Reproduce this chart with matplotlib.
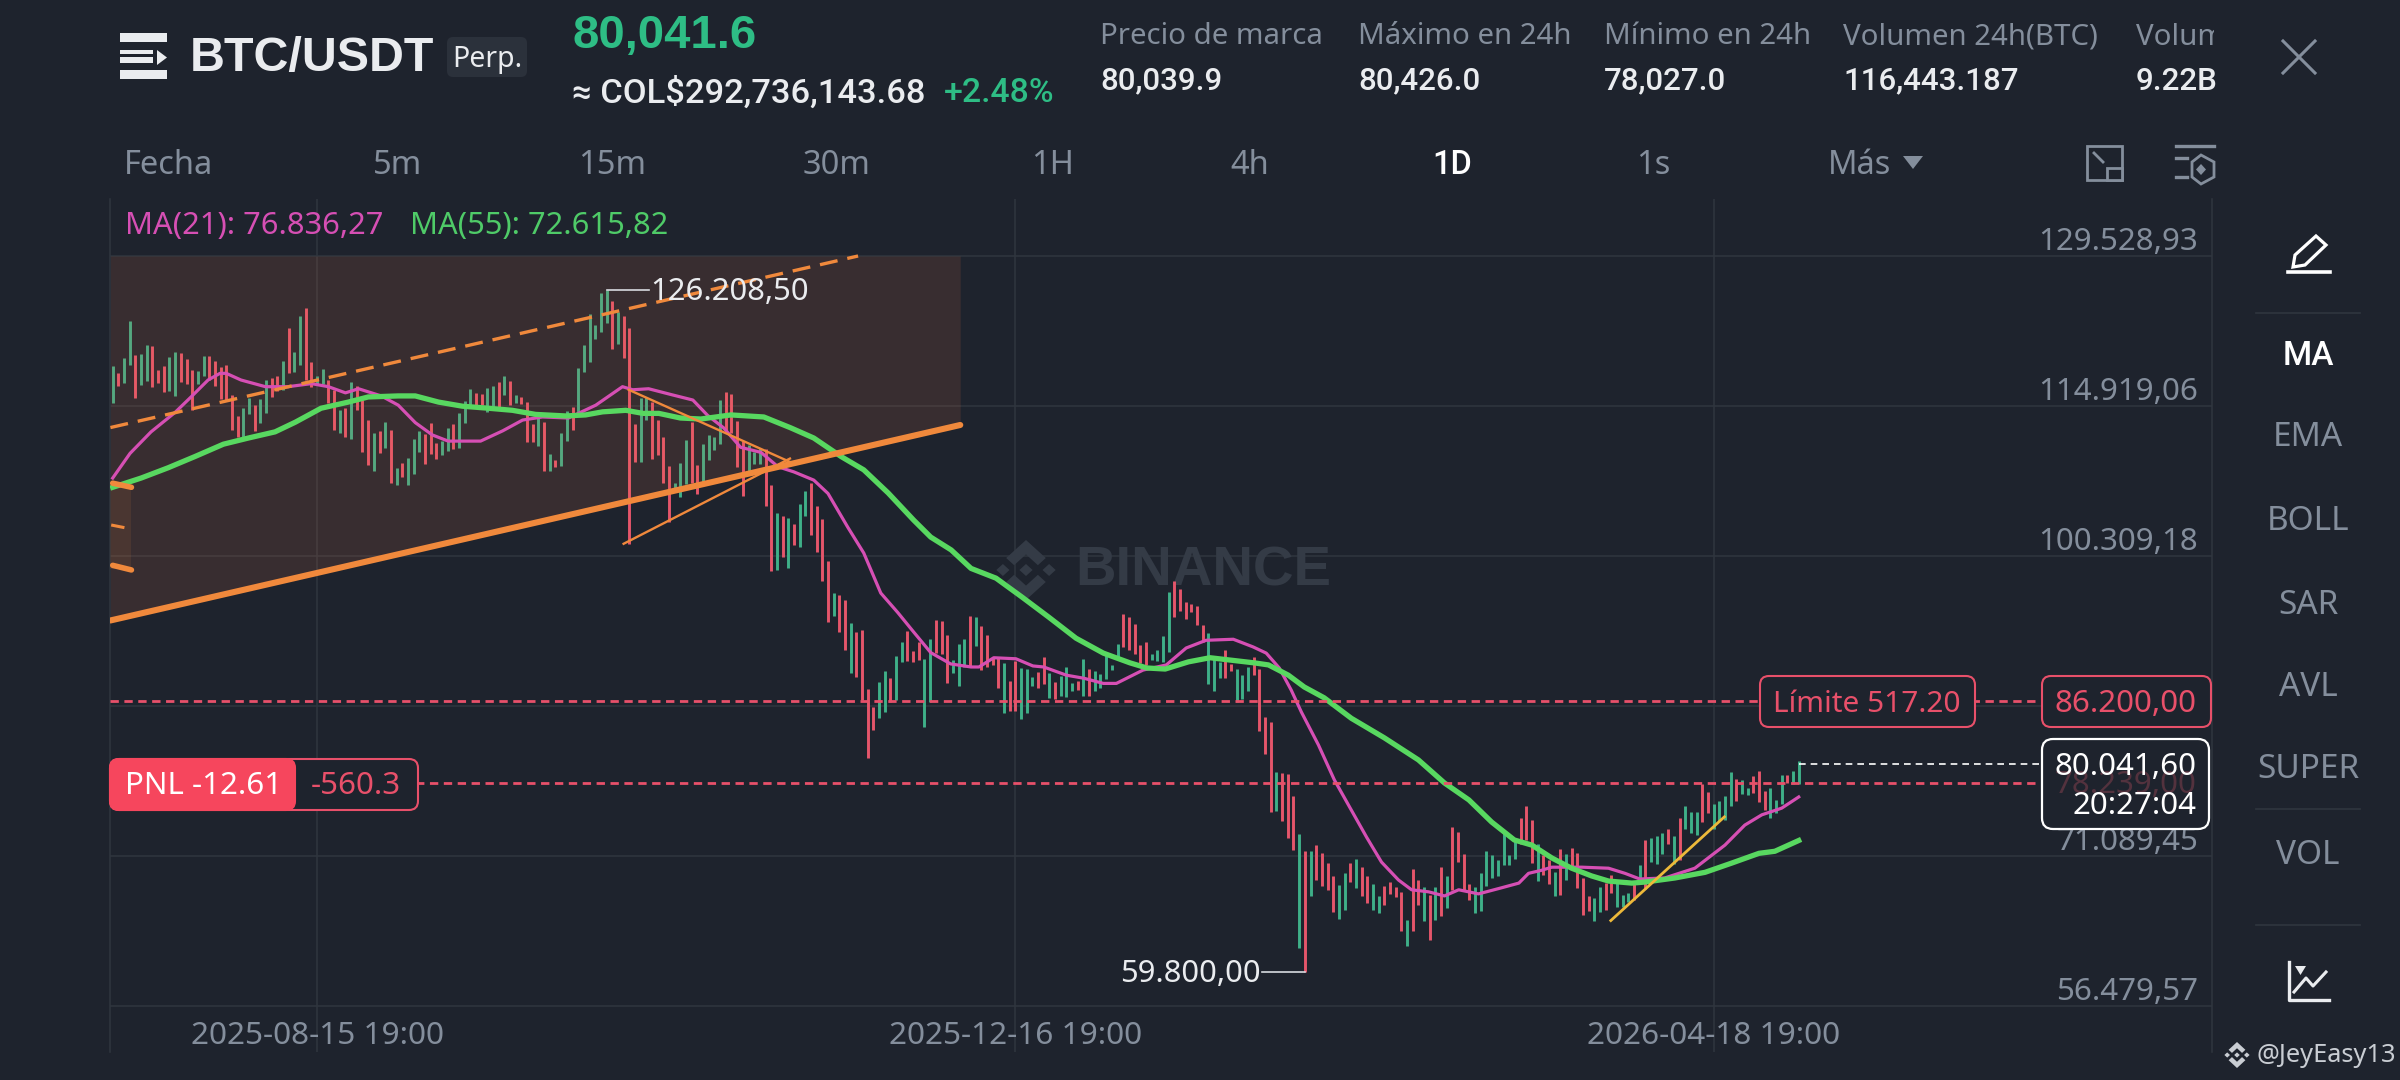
import numpy as np
import pandas as pd
import matplotlib
matplotlib.use("Agg")
import matplotlib.pyplot as plt
from matplotlib.patches import FancyBboxPatch, Polygon, Rectangle

plt.rcParams['font.family'] = ['Noto Sans', 'DejaVu Sans']
HEAVY = ['Liberation Sans', 'DejaVu Sans']
MEDIUM = ['Roboto', 'DejaVu Sans']

# daily bars, high and low in thousands
highs = [118.8,118.1,119.6,123.2,119.9,120.0,120.9,120.8,118.4,118.8,119.7,120.2,120.1,119.5,118.4,118.3,119.8,119.8,119.3,118.7,118.9,
         116.0,113.9,114.7,115.7,115.0,115.6,117.5,117.6,117.8,119.3,122.5,120.2,123.7,124.5,119.2,117.8,118.5,117.5,116.5,114.5,114.7,
         117.3,116.9,115.5,113.6,112.3,112.5,113.4,112.6,108.9,
         109.4,109.9,111.7,112.5,112.2,113.3,111.3,111.5,112.8,113.2,114.2,115.4,116.6,116.2,116.1,116.7,116.9,117.3,117.8,117.4,
         116.0,115.8,115.3,113.2,113.75,113.4,110.2,109.7,112.3,114.4,114.8,118.6,120.9,123.9,122.8,125.9,126.2085,125.1,124.1,123.7,
         122.5,113.2,115.7,115.8,115.3,113.6,111.9,109.1,107.4,109.4,
         111.6,113.4,109.2,111.2,112.1,111.9,115.5,116.3,116.1,113.5,111.5,111.15,110.4,110.8,110.7,107.2,104.5,104.2,104.0,103.4,
         105.4,106.6,107.45,105.2,103.9,99.8,96.7,96.5,96.0,93.75,92.9,93.1,87.4,85.6,88.0,89.1,88.4,90.6,91.9,93.0,
         91.1,91.9,90.3,92.2,94.1,94.0,92.6,90.2,91.7,92.2,94.5,
         94.4,93.5,92.65,90.5,90.4,89.9,88.1,90.05,89.4,89.3,88.5,89.0,90.5,88.9,88.0,88.6,89.5,87.9,88.1,90.3,
         89.3,89.1,88.8,90.8,89.7,91.7,94.7,94.4,93.7,91.6,91.9,90.8,91.2,92.5,96.8,97.85,97.1,95.8,95.6,95.4,
         93.6,92.8,90.45,90.0,91.2,89.8,89.3,88.75,89.5,90.5,
         89.3,84.6,84.1,79.3,79.2,79.1,76.9,73.2,71.6,71.6,72.2,71.35,70.4,69.15,68.3,69.4,70.4,70.8,70.0,69.15,
         68.4,67.2,68.2,68.6,68.1,67.6,64.85,69.85,68.75,68.1,67.3,68.1,70.0,69.15,73.95,73.4,71.3,68.4,68.1,69.4,
         71.6,71.15,70.7,73.4,71.15,72.65,74.8,75.95,74.6,72.3,
         71.15,70.7,69.5,71.75,71.3,71.9,71.35,68.95,67.2,67.0,68.05,68.45,69.2,68.45,67.25,67.45,68.55,70.25,72.65,72.8,
         73.05,73.35,73.7,73.05,74.8,75.95,75.35,75.4,78.15,77.3,76.15,76.4,76.95,79.3,78.55,78.5,77.75,78.9,79.4,77.4,
         77.75,76.55,78.95,78.95,79.4,80.35]
lows = [115.2,116.9,117.2,118.9,115.7,117.0,117.4,116.8,117.2,116.3,116.4,115.9,117.3,117.1,114.5,117.1,117.8,117.5,116.9,115.6,115.5,
        112.6,111.9,111.8,114.1,112.5,113.3,114.2,115.8,116.4,116.5,118.1,118.2,118.9,117.5,116.8,117.1,117.1,115.2,112.6,112.3,111.9,
        111.7,114.5,110.4,109.2,108.6,110.3,110.8,107.4,107.2,
        108.0,107.2,108.3,110.4,109.3,110.2,109.8,110.1,110.5,110.7,110.8,113.3,114.8,115.0,115.0,114.3,114.7,114.8,116.0,115.0,
        115.2,115.1,111.4,111.4,111.0,108.6,108.6,109.0,109.1,111.5,112.6,114.3,118.2,119.2,121.4,122.1,123.0,120.5,121.0,119.6,
        101.5,109.5,109.5,113.6,109.8,110.1,107.4,103.6,106.7,106.1,
        107.3,107.4,106.3,107.5,109.7,110.6,111.2,112.6,112.3,109.0,106.2,108.55,109.3,109.3,105.2,98.8,98.9,100.2,99.1,101.35,
        101.2,104.2,102.4,100.7,97.9,93.9,94.5,92.9,91.2,88.9,88.5,86.3,80.6,83.4,84.5,85.1,86.1,86.3,90.0,90.1,
        90.0,90.2,83.7,86.1,90.9,90.8,87.9,88.9,87.6,89.5,89.5,
        91.5,89.2,89.5,89.7,87.5,85.0,85.2,85.25,84.4,85.0,87.6,87.5,87.8,86.5,86.35,86.7,86.6,87.2,87.3,86.7,
        86.7,87.2,87.5,88.3,89.2,90.5,91.4,91.2,90.8,89.9,89.7,90.2,90.1,90.0,91.0,94.4,95.0,94.2,94.9,93.6,
        91.9,87.8,87.2,88.4,88.4,89.1,86.1,86.4,87.2,88.75,
        83.3,81.0,75.4,75.5,74.5,72.8,71.7,62.1,59.8,67.2,68.75,68.2,67.8,65.6,65.0,65.8,68.6,68.0,67.2,66.5,
        65.8,65.5,66.35,67.4,67.05,63.75,62.3,63.8,66.35,64.8,62.9,64.9,65.2,66.0,67.8,70.5,67.8,66.8,65.5,65.7,
        68.2,68.9,69.1,70.25,70.25,70.8,72.3,72.6,70.4,68.7,
        69.25,68.4,67.2,67.25,68.8,69.85,67.95,65.35,65.7,64.8,65.6,65.8,67.45,66.1,66.15,66.6,66.8,68.6,67.85,70.55,
        70.35,71.3,72.3,70.35,70.7,73.7,73.35,73.15,74.4,75.3,73.7,74.45,74.6,76.0,76.4,77.1,77.0,77.2,76.35,75.55,
        74.8,75.25,76.2,78.2,78.15,78.15]
# G up, R down, same order as highs and lows
bar_dirs = ("GRGGRGGRRRGGRRRGGRRRRRRGGRGGRRGRGGRRGGRRGRGRRRGRGRG"
            "RGGGRRRGGRGGGRRGGRGRGRRRGRGRGGRGGGGGGRGRRRGGRRRRGG"
            "GRRGGGGRRRRGGGRRGRGRGGRRRRGRRGRRRRGGRGGRRRGGRRRGGG"
            "RGRRRRGRRGGGRRGRGGGRGRGGGGGRRRRRGGGGRRRRRRGGGRRGGG"
            "RRRRGRRRGRGRRRRGGRGRRGGRRRRGRRGRGRGRRRRGGGGGGGGRRR"
            "GRRGRGRRRRGGRRGGGRGRGGGRGRGGGRRGGGGRGGRRRGGGRG")

# moving averages, day index and price in thousands
ma21_days = [0,3.05,6.75,11,13.8,16.8,18.9,20,22.6,26.9,30.9,35,38,41,43.3,47.3,50.3,53.3,56.3,59.1,64.8,68.7,72.2,75.7,80.3,85.1,89.8,91.6,94.4,98.6,
             102.2,104.8,107.6,110.6,114.2,117.2,120,123.5,126,129.5,132.3,135.3,138.3,141.1,144.1,147.6,151.2,152.6,155.2,159.1,162.1,164,168,171.1,174.5,176.8,181.5,185.6,189.1,192.6,
             197.4,200.9,203.2,205.5,207.6,209.4,212.4,215.2,218.2,220.9,223.5,226.5,228.8,231.8,234.6,237.1,240.6,244.7,247.7,249.4,251.7,253.5,258.8,263.5,266.4,269,273.4,278.7,284,287.5,
             290.5,294,297]
ma21_vals = [107.9,110.3,112.4,114.3,115.8,117.45,118.1,118.1,117.45,116.8,116.8,117.1,116.8,116.2,116.6,115.9,115.0,113.3,112.1,111.5,111.5,112.5,113.55,113.85,113.75,115.0,116.8,116.5,116.6,116.0,
             115.5,114.0,112.8,110.9,110.4,109.0,108.5,107.7,106.4,103.1,100.6,96.7,94.8,92.9,90.9,89.8,89.5,89.5,90.4,90.3,89.6,89.5,88.7,88.4,87.9,87.9,89.2,89.7,91.35,92.1,
             92.2,91.45,90.85,89.4,87.25,85.1,81.9,78.5,75.55,72.9,70.5,68.75,67.8,67.6,67.2,67.8,67.4,68.0,68.45,69.4,69.7,70.0,70.0,69.9,69.4,68.85,68.95,69.9,72.15,74.1,
             75.1,75.75,76.84]
ma55_days = [0,5,9.75,14.5,19.5,23.9,28.6,32.2,36.7,41.5,45,50.3,53.3,57.4,61.6,66.2,70.4,74.5,79.8,83.3,86.3,90.4,93.4,96.2,100,103.6,108.9,114.7,119.4,123.5,
             128.3,132.3,136.6,141.1,144.1,147.7,151.2,155.6,160.2,164.9,169.7,174.5,179.2,182.2,185.4,189.5,193.3,201.1,203.6,207.1,209.9,213.4,218.2,224,230,234.6,238.9,242.9,246.9,250,
             253.5,257,260.5,263.5,267.6,269.9,275.2,280.5,285.2,290,292.8,297]
ma55_vals = [107.0,107.9,108.9,110.0,111.2,111.8,112.4,113.35,114.7,115.3,115.8,115.9,115.9,115.3,114.9,114.7,114.5,114.1,113.95,114.05,114.35,114.5,114.2,114.2,113.75,113.65,114.05,113.85,112.8,111.8,
             110.0,108.7,106.45,103.8,102.15,100.9,99.1,98.15,96.3,94.35,92.3,90.85,89.9,89.4,89.3,90.0,90.4,89.9,89.7,88.7,87.55,86.5,84.5,82.6,80.45,78.2,76.55,74.4,72.65,72.15,
             70.9,69.9,69.15,68.65,68.45,68.55,68.95,69.5,70.4,71.35,71.55,72.6]

# drawn trend lines, day index and price in thousands
support_days = [-0.4, 149.3]
support_vals = [94.03, 113.07]
resist_days = [-0.4, 131.3]
resist_vals = [112.82, 129.53]
thin_up_days = [90, 119.3]
thin_up_vals = [101.5, 109.8]
thin_down_days = [90.9, 120]
thin_down_vals = [116.5, 109.3]
yellow_days = [263.9, 283.9]
yellow_vals = [64.8, 74.9]

first_day = pd.Timestamp("2025-07-10")
date_ticks = ["2025-08-15", "2025-12-16", "2026-04-18"]
date_labels = ["2025-08-15 19:00", "2025-12-16 19:00", "2026-04-18 19:00"]
price_ticks = [129528.93, 114919.06, 100309.18, 85699.31, 71089.45, 56479.57]
price_labels = ["129.528,93", "114.919,06", "100.309,18", "", "71.089,45", "56.479,57"]
last_price = 80041.60
limit_price = 86200.00
entry_price = 78239.00
peak_price = 126208.50
bottom_price = 59800.00

timeframes = ["5m", "15m", "30m", "1H", "4h", "1D", "1s", "Más"]
side_items = ["MA", "EMA", "BOLL", "SAR", "AVL", "SUPER", "VOL"]
stat_names = ["Precio de marca", "Máximo en 24h", "Mínimo en 24h", "Volumen 24h(BTC)", "Volumen 24h(USDT)"]
stat_values = ["80,039.9", "80,426.0", "78,027.0", "116,443.187", "9.22B"]

BG = "#1E232D"
GRID = "#30363F"
GREY = "#848E9C"
WHITE = "#EAECEF"
UP = "#3FB088"
DOWN = "#E5566B"
RED = "#E8506A"
ORANGE = "#F0893C"
MAGENTA = "#D64FB4"
LIME = "#58D860"

fig = plt.figure(figsize=(24, 10.8), dpi=100, facecolor=BG)
W, H = 2400.0, 1080.0

# chart panel, 5.677 px per day and 97.399 of price per px
ax_left, ax_right, ax_top, ax_bot = 110, 2212, 199, 1052
ax = fig.add_axes([ax_left/W, 1-ax_bot/H, (ax_right-ax_left)/W, (ax_bot-ax_top)/H], facecolor=BG)
ui = fig.add_axes([0, 0, 1, 1], facecolor="none", zorder=5)
ui.set_xlim(0, W)
ui.set_ylim(H, 0)
ui.axis("off")

ax.set_xlim(-0.476, 369.8)
ax.set_ylim(price_ticks[0]-(ax_bot-256)*97.399, price_ticks[0]+(256-ax_top)*97.399)
tick_days = [(pd.Timestamp(d)-first_day).days for d in date_ticks]
ax.set_xticks(tick_days)
ax.set_yticks(price_ticks)
ax.set_xticklabels([])
ax.set_yticklabels([])
ax.tick_params(length=0)
ax.grid(True, color=GRID, lw=1.1, zorder=0)
ax.set_axisbelow(True)
for side in ["top", "bottom"]:
    ax.spines[side].set_visible(False)
for side in ["left", "right"]:
    ax.spines[side].set_color(GRID)
    ax.spines[side].set_linewidth(1.1)


def binance_mark(axis, cx, cy, rx, ry, color, **kw):
    pieces = [[(0, -.2), (.2, 0), (0, .2), (-.2, 0)],
              [(-.7, -.2), (-.5, 0), (-.7, .2), (-.9, 0)],
              [(.7, -.2), (.9, 0), (.7, .2), (.5, 0)],
              [(0, -1), (.6, -.4), (.36, -.16), (0, -.52), (-.36, -.16), (-.6, -.4)],
              [(0, 1), (.6, .4), (.36, .16), (0, .52), (-.36, .16), (-.6, .4)]]
    for p in pieces:
        pts = [(cx+a*rx, cy+b*ry) for a, b in p]
        axis.add_patch(Polygon(pts, closed=True, fc=color, ec="none", transform=ui.transData, **kw))


# watermark sits under the candles
ax.text(1075, 572, "BINANCE", transform=ui.transData, color="#343B46", fontsize=40.5, family=HEAVY,
        fontweight="bold", va="center", ha="left", zorder=1)
binance_mark(ax, 1026, 570, 33, 30, "#343B46", zorder=1)

# candles
highs_arr = np.array(highs)*1000
lows_arr = np.array(lows)*1000
days = np.arange(len(highs_arr))
bar_cols = [UP if c == "G" else DOWN for c in bar_dirs]
ax.vlines(days, lows_arr, highs_arr, colors=bar_cols, lw=2.1, zorder=3, capstyle="butt")

# shaded channel
sup_v = np.array(support_vals)*1000
ax.fill_between(support_days, sup_v, price_ticks[0], color="#F07848", alpha=0.125, lw=0, zorder=4)
ax.fill_between([-0.4, 3.3], 99000, 107400, color=ORANGE, alpha=0.10, lw=0, zorder=4)

# moving averages
ax.plot(ma21_days, np.array(ma21_vals)*1000, color=MAGENTA, lw=2.3, zorder=5)
ax.plot(ma55_days, np.array(ma55_vals)*1000, color=LIME, lw=3.8, zorder=5)

# trend lines
ax.plot(support_days, sup_v, color=ORANGE, lw=4.4, solid_capstyle="round", zorder=6)
ax.plot(resist_days, np.array(resist_vals)*1000, color=ORANGE, lw=2.4, dashes=(5.4, 3), zorder=6)
ax.plot(thin_up_days, np.array(thin_up_vals)*1000, color=ORANGE, lw=1.7, zorder=6)
ax.plot(thin_down_days, np.array(thin_down_vals)*1000, color=ORANGE, lw=1.7, zorder=6)
ax.plot(yellow_days, np.array(yellow_vals)*1000, color="#EDB93A", lw=2.0, zorder=6)
ax.plot([0, 3.3], [107400, 107000], color=ORANGE, lw=4, solid_capstyle="round", zorder=6)
ax.plot([0, 3.3], [99400, 98950], color=ORANGE, lw=4, solid_capstyle="round", zorder=6)
ax.plot([0, 1.8], [103300, 103100], color=ORANGE, lw=2.2, zorder=6)

# order lines and last price
ax.plot([-0.4, 340], [limit_price, limit_price], color=RED, lw=2.0, dashes=(3, 2), zorder=7)
ax.plot([-0.4, 340], [entry_price, entry_price], color=RED, lw=2.0, dashes=(3, 2), zorder=7)
ax.plot([297, 340], [last_price, last_price], color="white", lw=1.2, dashes=(4, 3), zorder=7)

# peak and bottom leaders
peak_day = int(np.argmax(highs_arr))
low_day = int(np.argmin(lows_arr))
ax.plot([peak_day, peak_day+7.5], [peak_price, peak_price], color="#D8DBE0", lw=1.2, zorder=7)
ax.text(peak_day+7.7, peak_price-200, "126.208,50", color=WHITE, fontsize=22.3, va="center", ha="left", zorder=8)
ax.plot([low_day-7.5, low_day], [bottom_price, bottom_price], color="#D8DBE0", lw=1.2, zorder=7)
ax.text(low_day-7.7, bottom_price-200, "59.800,00", color=WHITE, fontsize=22.3, va="center", ha="right", zorder=8)

# price and date labels
for val, lab in zip(price_ticks, price_labels):
    ax.annotate(lab, xy=(1, val), xycoords=ax.get_yaxis_transform(), xytext=(-9.8, 10),
                textcoords="offset points", color=GREY, fontsize=22.5, ha="right", va="center")
for d, lab in zip(tick_days, date_labels):
    ax.annotate(lab, xy=(d, 0), xycoords=ax.get_xaxis_transform(), xytext=(0, 11.4),
                textcoords="offset points", color=GREY, fontsize=22.7, ha="center", va="center")

ui.text(125, 226, "MA(21): 76.836,27", color=MAGENTA, fontsize=22.2, va="center")
ui.text(410, 226, "MA(55): 72.615,82", color="#4FCB68", fontsize=22.2, va="center")


def box(x0, y0, x1, y1, ec, fc=BG, lw=1.5, r=9, z=6, **kw):
    ui.add_patch(FancyBboxPatch((x0, y0), x1-x0, y1-y0, boxstyle="round,pad=0,rounding_size=%d" % r,
                                fc=fc, ec=ec, lw=lw, zorder=z, **kw))


# order labels
box(1760, 676, 1975, 727, RED)
ui.text(1867, 704, "Límite 517.20", color=RED, fontsize=21.5, ha="center", va="center", zorder=7)
box(2042, 676, 2211, 727, RED)
ui.text(2196, 704, "86.200,00", color=RED, fontsize=22.5, ha="right", va="center", zorder=7)

box(110, 759, 418, 810, RED)
box(110, 759, 295, 810, "#F6465D", fc="#F6465D", z=6.2)
ui.text(125, 786, "PNL -12.61", color="white", fontsize=22.5, va="center", zorder=7)
ui.text(311, 786, "-560.3", color=RED, fontsize=22.5, va="center", zorder=7)

box(2042, 739, 2209, 829, "white", lw=1.6, r=11)
ui.text(2196, 785, "78.239,00", color="#53323E", fontsize=22.5, ha="right", va="center", zorder=6.5)
ui.text(2196, 767, "80.041,60", color="white", fontsize=22.5, ha="right", va="center", zorder=7)
ui.text(2196, 806, "20:27:04", color="white", fontsize=22.5, ha="right", va="center", zorder=7)

# header, logo first
for y0, y1, x1 in [(33, 42, 167), (50, 54, 153), (57, 63, 153), (70, 79, 167)]:
    ui.add_patch(Rectangle((120, y0), x1-120, y1-y0, fc=WHITE, ec="none"))
ui.add_patch(Polygon([(157, 50), (167, 57.5), (157, 65)], fc=WHITE, ec="none"))
ui.text(190, 58, "BTC/USDT", color=WHITE, fontsize=34.8, family=HEAVY, fontweight="bold", va="center")
box(447, 37, 527, 77, "none", fc="#2B313B", r=6)
ui.text(487, 59, "Perp.", color=WHITE, fontsize=20.5, ha="center", va="center", zorder=7)
ui.text(572, 36, "80,041.6", color="#2EBD85", fontsize=34, family=HEAVY, fontweight="bold", va="center")
ui.text(572, 93, "≈ COL$292,736,143.68", color=WHITE, fontsize=24.8, family=MEDIUM, fontweight="medium", va="center")
ui.text(944, 93, "+2.48%", color="#2EBD85", fontsize=24.3, family=MEDIUM, fontweight="medium", va="center")

stat_x = [1100, 1358, 1604, 1843, 2136]
clip = Rectangle((0, 0), 2214, 130, transform=ui.transData)
for x, name, val in zip(stat_x, stat_names, stat_values):
    t = ui.text(x, 37, name, color=GREY, fontsize=21.2, va="center")
    t.set_clip_path(clip)
    t.set_clip_on(True)
    ui.text(x, 81, val, color=WHITE, fontsize=22.5, family=MEDIUM, fontweight="medium", va="center")

ui.plot([2283, 2315], [41, 73], color=GREY, lw=2.2)
ui.plot([2315, 2283], [41, 73], color=GREY, lw=2.2)

# timeframe row
ui.text(124, 165, "Fecha", color=GREY, fontsize=23.5, va="center")
tf_x = [398, 612, 837, 1053, 1250, 1452, 1653, 1860]
for x, lab in zip(tf_x, timeframes):
    on = lab == "1D"
    ui.text(x, 165, lab, color="white" if on else GREY, fontsize=23.5, ha="center", va="center",
            family=MEDIUM if on else None, fontweight="medium" if on else "normal")
ui.add_patch(Polygon([(1903, 156), (1923, 156), (1913, 169)], fc=GREY, ec="none"))
ui.add_patch(Rectangle((2087, 146), 35, 34, fc="none", ec=GREY, lw=2))
ui.add_patch(Rectangle((2107, 168), 15, 12, fc=BG, ec=GREY, lw=2))
ui.plot([2094, 2103], [153, 162], color=GREY, lw=2)
ui.plot([2176, 2214], [146, 146], color=GREY, lw=2.4)
ui.plot([2176, 2187], [158, 158], color=GREY, lw=2.4)
ui.plot([2176, 2187], [177, 177], color=GREY, lw=2.4)
ui.add_patch(Polygon([(2201, 155), (2214, 162), (2214, 177), (2201, 184), (2192, 177), (2192, 162)],
                     fc="none", ec=GREY, lw=2))
ui.add_patch(Polygon([(2201, 164), (2206, 169.5), (2201, 175), (2196, 169.5)], fc=GREY, ec="none"))

# right column
ui.add_patch(Polygon([(2316, 236), (2326, 245), (2305, 265), (2293, 267), (2295, 255)], fc="none", ec="white", lw=2.3))
ui.plot([2288, 2330], [272, 272], color="white", lw=2.6)
side_y = [356, 438, 521, 605, 688, 770, 855]
for y, lab in zip(side_y, side_items):
    is_on = lab == "MA"
    ui.text(2308, y, lab, color="white" if is_on else GREY, fontsize=24, ha="center", va="center",
            family=MEDIUM if is_on else None, fontweight="medium" if is_on else "normal")
for y in [313, 809, 925]:
    ui.plot([2256, 2360], [y, y], color=GRID, lw=1.2)
ui.plot([2289, 2289, 2329], [962, 1000, 1000], color=WHITE, lw=2.4)
ui.plot([2294, 2306, 2313, 2326], [992, 978, 986, 972], color=WHITE, lw=2.2)
ui.add_patch(Polygon([(2295, 966), (2306, 966), (2300.5, 975)], fc=WHITE, ec="none"))

binance_mark(ui, 2237, 1055, 14, 13, "#C9CDD3")
ui.text(2257, 1056, "@JeyEasy13", color="#C9CDD3", fontsize=18.3, va="center")

fig.savefig("out.png", dpi=100, facecolor=BG)
